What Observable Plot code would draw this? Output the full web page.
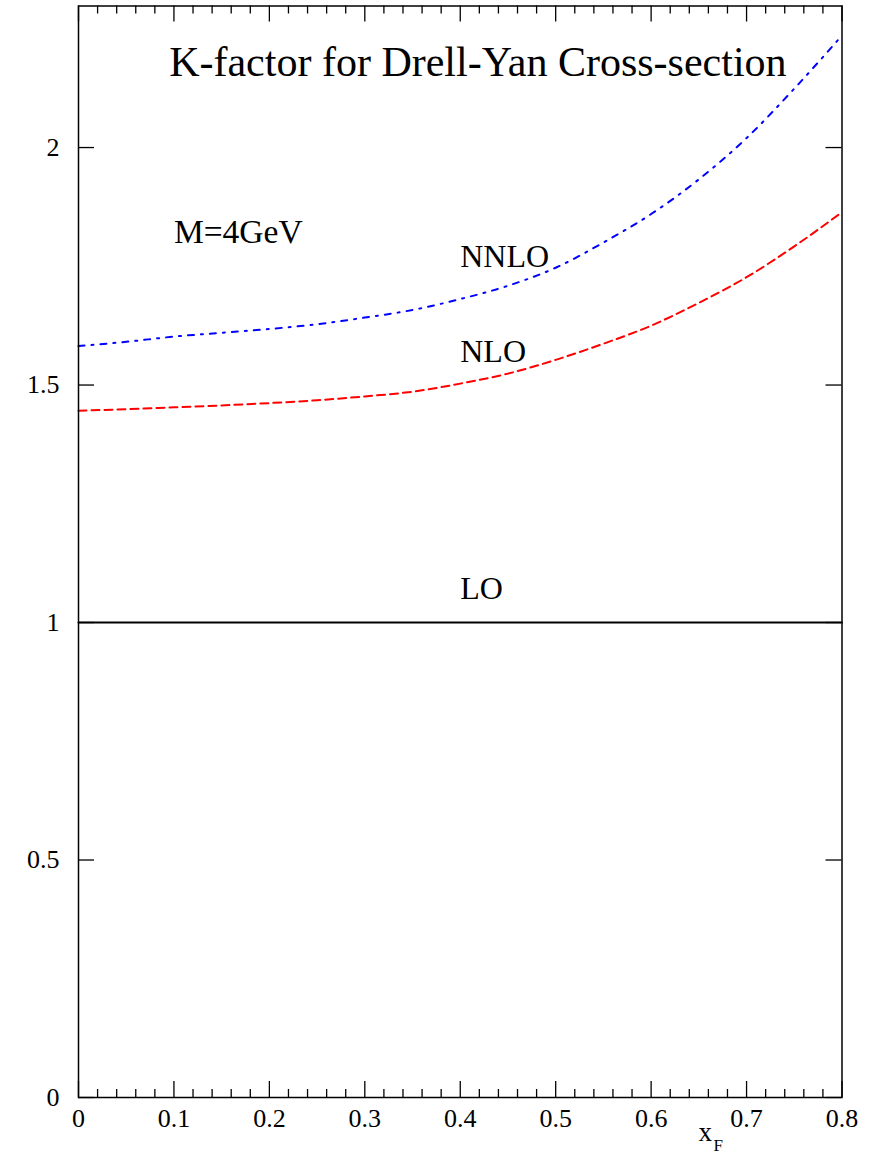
<!DOCTYPE html>
<html>
<head>
<meta charset="utf-8">
<script src="https://cdn.jsdelivr.net/npm/d3@7"></script>
<script src="https://cdn.jsdelivr.net/npm/@observablehq/plot@0.6"></script>
<style>
  html, body { margin: 0; padding: 0; background: #fff; }
  svg { display: block; }
</style>
</head>
<body>
<div id="chart"></div>
<script>
// ---- data ----
const xF = [0, 0.05, 0.1, 0.15, 0.2, 0.25, 0.3, 0.35, 0.4, 0.45, 0.5, 0.55, 0.6, 0.65, 0.7, 0.75, 0.8];
const kLO   = [1, 1, 1, 1, 1, 1, 1, 1, 1, 1, 1, 1, 1, 1, 1, 1, 1];
const kNLO  = [1.446, 1.449, 1.453, 1.457, 1.462, 1.468, 1.476, 1.486, 1.503, 1.524, 1.553, 1.587, 1.625, 1.673, 1.727, 1.792, 1.864];
const kNNLO = [1.582, 1.591, 1.602, 1.610, 1.618, 1.628, 1.642, 1.658, 1.681, 1.709, 1.747, 1.800, 1.860, 1.933, 2.020, 2.124, 2.236];

const xMajor = [0, 0.1, 0.2, 0.3, 0.4, 0.5, 0.6, 0.7, 0.8];
const xMajorLabels = ["0", "0.1", "0.2", "0.3", "0.4", "0.5", "0.6", "0.7", "0.8"];
const xMinor = d3.range(0, 41).map(i => i / 50).filter(v => Math.abs(v * 10 - Math.round(v * 10)) > 1e-9);
const yMajor = [0, 0.5, 1, 1.5, 2];
const yMajorLabels = ["0", "0.5", "1", "1.5", "2"];

const titleText = "K-factor for Drell-Yan Cross-section";
const massText = "M=4GeV";
const seriesNames = ["LO", "NLO", "NNLO"];

// ---- layout ----
const W = 879, H = 1155;
const mL = 78, mR = 37.5, mT = 5.5, mB = 58;
const innerW = W - mL - mR, innerH = H - mT - mB;
const FONT = "'Liberation Serif', 'Times New Roman', serif";

const rows = xF.map((x, i) => ({x, lo: kLO[i], nlo: kNLO[i], nnlo: kNNLO[i]}));

const annotations = [
  {text: titleText, x: 0.095, y: 2.15, size: 42},
  {text: massText, x: 0.1, y: 1.8, size: 33.5},
  {text: seriesNames[2], x: 0.4, y: 1.749, size: 32},
  {text: seriesNames[1], x: 0.4, y: 1.549, size: 32},
  {text: seriesNames[0], x: 0.4, y: 1.05, size: 32}
];

const tickStroke = {stroke: "black", strokeWidth: 1.3};

const chart = Plot.plot({
  width: W, height: H,
  marginLeft: mL, marginRight: mR, marginTop: mT, marginBottom: mB,
  style: {fontFamily: FONT, background: "white", color: "black"},
  x: {domain: [0, 0.8]},
  y: {domain: [0, 2.298]},
  marks: [
    // ticks (inward), bottom/top
    Plot.tickX(xMajor, {x: d => d, insetTop: innerH - 16, ...tickStroke}),
    Plot.tickX(xMinor, {x: d => d, insetTop: innerH - 8, ...tickStroke}),
    Plot.tickX(xMajor, {x: d => d, insetBottom: innerH - 16, ...tickStroke}),
    Plot.tickX(xMinor, {x: d => d, insetBottom: innerH - 8, ...tickStroke}),
    // ticks left/right
    Plot.tickY(yMajor, {y: d => d, insetRight: innerW - 16, ...tickStroke}),
    Plot.tickY(yMajor, {y: d => d, insetLeft: innerW - 16, ...tickStroke}),
    // axis labels
    Plot.axisX({ticks: xMajor, tickSize: 0, tickPadding: 11, fontSize: 26, label: null,
      tickFormat: d => xMajorLabels[xMajor.indexOf(d)]}),
    Plot.axisY({ticks: yMajor, tickSize: 0, tickPadding: 19, fontSize: 26, label: null,
      tickFormat: d => yMajorLabels[yMajor.indexOf(d)]}),
    // curves
    Plot.line(rows, {x: "x", y: "lo", stroke: "black", strokeWidth: 2}),
    Plot.line(rows, {x: "x", y: "nlo", stroke: "#ff0000", strokeWidth: 2, strokeDasharray: "8,5", curve: "monotone-x"}),
    Plot.line(rows, {x: "x", y: "nnlo", stroke: "#0000ff", strokeWidth: 2, strokeDasharray: "6,7,2,7", curve: "monotone-x"}),
    // annotations
    ...annotations.map(a => Plot.text([a], {x: "x", y: "y", text: "text", fontSize: a.size,
      textAnchor: "start", lineAnchor: "bottom", fill: "black"})),
    // axis title x_F
    Plot.text(["x"], {text: d => d, frameAnchor: "bottom-left", dx: 620, dy: 43, fontSize: 27,
      textAnchor: "start", lineAnchor: "bottom", fill: "black"}),
    Plot.text(["F"], {text: d => d, frameAnchor: "bottom-left", dx: 635, dy: 53, fontSize: 17,
      textAnchor: "start", lineAnchor: "bottom", fill: "black"}),
    Plot.frame({stroke: "black", strokeWidth: 1.5})
  ]
});

document.getElementById("chart").appendChild(chart);
</script>
</body>
</html>
